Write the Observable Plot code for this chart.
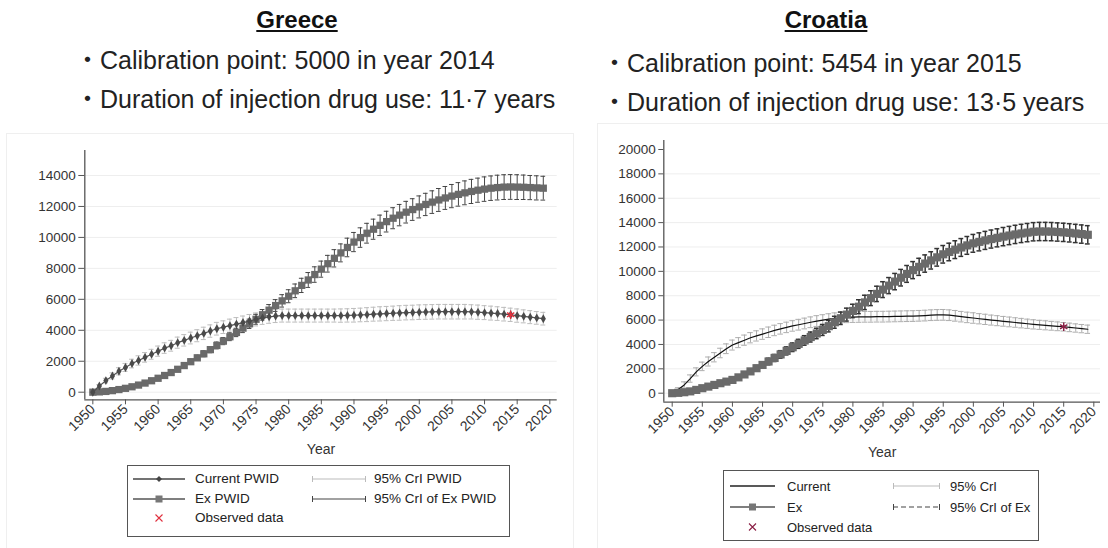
<!DOCTYPE html>
<html><head><meta charset="utf-8">
<script src="https://cdn.jsdelivr.net/npm/d3@7"></script>
<script src="https://cdn.jsdelivr.net/npm/@observablehq/plot@0.6"></script>
<style>
body{margin:0;background:#fff;font-family:Arial,"Liberation Sans","Noto Sans CJK JP",sans-serif;}
#root{position:relative;width:1108px;height:548px;overflow:hidden;background:#fff;}
.abs{position:absolute;}
.title{position:absolute;font-weight:bold;text-decoration:underline;font-size:24px;line-height:1;color:#111;transform:translateX(-50%);white-space:nowrap;}
.bullet{position:absolute;font-size:25px;line-height:1;color:#222;white-space:nowrap;}
.pframe{position:absolute;border:1px solid #efefef;}
.legend{position:absolute;border:1px solid #555;background:#fff;color:#222;}
.legend .it{position:absolute;white-space:nowrap;line-height:1;transform:translateY(-50%);}
.legend svg{position:absolute;transform:translateY(-50%);overflow:visible;}
</style>
</head><body>
<div id="root">
  <div class="pframe" style="left:6px;top:133px;width:566px;height:430px;"></div>
  <div class="pframe" style="left:597px;top:123px;width:530px;height:440px;"></div>
  <div class="title" style="left:297px;top:8px;">Greece</div>
  <div class="title" style="left:826px;top:8px;">Croatia</div>
  <div class="bullet" style="left:75px;top:48px;">・Calibration point: 5000 in year 2014</div>
  <div class="bullet" style="left:75px;top:87px;">・Duration of injection drug use: 11·7 years</div>
  <div class="bullet" style="left:602px;top:51px;">・Calibration point: 5454 in year 2015</div>
  <div class="bullet" style="left:602px;top:90px;">・Duration of injection drug use: 13·5 years</div>
  <div id="chartGR" class="abs" style="left:8px;top:134px;"></div>
  <div id="chartHR" class="abs" style="left:598px;top:124px;"></div>
  <div id="legGR" class="legend" style="left:127px;top:465px;width:381px;height:70px;font-size:13.5px;"></div>
  <div id="legHR" class="legend" style="left:723px;top:470px;width:314px;height:69px;font-size:13px;"></div>
</div>
<script>
// ---------- data ----------
const years = [1950,1951,1952,1953,1954,1955,1956,1957,1958,1959,
1960,1961,1962,1963,1964,1965,1966,1967,1968,1969,
1970,1971,1972,1973,1974,1975,1976,1977,1978,1979,
1980,1981,1982,1983,1984,1985,1986,1987,1988,1989,
1990,1991,1992,1993,1994,1995,1996,1997,1998,1999,
2000,2001,2002,2003,2004,2005,2006,2007,2008,2009,
2010,2011,2012,2013,2014,2015,2016,2017,2018,2019];

const xTicks = [1950,1955,1960,1965,1970,1975,1980,1985,1990,1995,2000,2005,2010,2015,2020];
const grYTicks = [0,2000,4000,6000,8000,10000,12000,14000];
const hrYTicks = [0,2000,4000,6000,8000,10000,12000,14000,16000,18000,20000];
const grXDomain = [1948.77, 2021.13];
const grYDomain = [-491, 15615];
const hrXDomain = [1948.605, 2021.11];
const hrYDomain = [-739, 20739];

// Greece
const grCurrent = [0,400,750,1050,1350,1600,1850,2050,2250,2450,
2650,2850,3000,3200,3350,3500,3650,3800,3950,4100,
4200,4300,4400,4500,4600,4700,4800,4870,4920,4950,
4950,4950,4950,4950,4950,4950,4950,4950,4950,4960,
4970,4990,5010,5040,5060,5080,5100,5120,5140,5150,
5170,5180,5190,5200,5200,5200,5200,5200,5190,5170,
5140,5110,5080,5040,5000,4950,4900,4850,4800,4750];
const grCurrentCrI = [0,100,150,200,230,260,280,300,310,320,
330,340,350,360,370,380,390,400,400,410,
410,420,420,420,420,420,420,420,420,420,
420,420,420,420,420,420,420,420,430,430,
440,440,450,450,460,460,460,470,470,470,
470,470,470,470,470,470,470,470,460,460,
450,450,440,440,430,430,420,420,410,410];
const grEx = [0,20,50,100,170,250,350,460,590,740,
900,1080,1270,1480,1720,1970,2220,2480,2750,3020,
3300,3580,3860,4140,4420,4710,5000,5300,5600,5900,
6200,6550,6900,7250,7600,7950,8300,8650,9000,9350,
9700,9990,10270,10530,10780,11020,11240,11440,11630,11800,
11970,12130,12280,12420,12550,12670,12780,12880,12970,13050,
13120,13180,13220,13250,13260,13250,13240,13220,13200,13180];
const grExCrI = [0,10,20,30,40,50,60,70,80,90,
100,110,120,130,140,160,170,190,200,220,
230,250,270,290,300,320,340,360,380,400,
420,440,460,480,500,520,540,560,580,600,
620,630,640,650,660,670,680,690,700,700,
710,720,730,740,740,750,760,770,780,780,
790,790,800,800,800,800,790,780,780,770];
const grObsYear = [2014];
const grObsValue = [5000];

// Croatia
const hrCurrent = [0,300,680,1200,1750,2200,2600,2950,3300,3650,
3950,4150,4350,4550,4700,4850,5000,5150,5280,5400,
5520,5620,5720,5820,5920,6000,6080,6150,6200,6230,
6250,6260,6270,6270,6280,6280,6290,6300,6310,6320,
6330,6350,6370,6400,6420,6430,6400,6350,6280,6220,
6170,6110,6060,6000,5950,5900,5850,5800,5750,5700,
5650,5610,5570,5530,5490,5454,5400,5350,5300,5250];
const hrCurrentCrI = [0,150,250,300,330,350,370,380,390,400,
410,410,420,420,420,430,430,430,430,430,
430,440,440,440,440,440,440,440,440,440,
440,440,440,440,440,440,440,440,440,440,
440,440,440,440,440,440,440,440,430,430,
430,420,420,410,410,400,400,390,390,380,
380,370,370,360,360,350,350,340,340,340];
const hrEx = [0,30,80,150,270,410,540,680,820,950,
1090,1300,1540,1790,2050,2320,2600,2890,3180,3470,
3770,4050,4330,4610,4900,5190,5500,5820,6150,6450,
6750,7100,7450,7800,8150,8500,8830,9160,9480,9790,
10100,10370,10640,10900,11150,11400,11590,11780,11960,12130,
12300,12420,12540,12650,12750,12850,12940,13030,13110,13180,
13250,13270,13270,13260,13230,13200,13160,13110,13060,13000];
const hrExCrI = [0,20,40,60,80,100,110,120,130,140,
150,170,190,210,230,250,270,290,310,330,
350,370,390,410,430,450,470,490,510,530,
550,570,590,610,630,650,660,670,680,690,
700,700,710,710,720,720,720,730,730,730,
730,740,740,740,740,750,750,750,750,750,
750,750,750,750,750,750,750,750,750,750];
const hrObsYear = [2015];
const hrObsValue = [5454];

// ---------- tables ----------
function table(cur, curCrI, ex, exCrI) {
  return years.map((year, i) => ({
    year,
    cur: cur[i], curLo: cur[i] - curCrI[i], curHi: cur[i] + curCrI[i],
    ex: ex[i], exLo: ex[i] - exCrI[i], exHi: ex[i] + exCrI[i]
  }));
}
const gr = table(grCurrent, grCurrentCrI, grEx, grExCrI);
const hr = table(hrCurrent, hrCurrentCrI, hrEx, hrExCrI);
const grObs = grObsYear.map((year, i) => ({year, value: grObsValue[i]}));
const hrObs = hrObsYear.map((year, i) => ({year, value: hrObsValue[i]}));

const FONT = 'Arial, "Liberation Sans", sans-serif';

function errorBars(data, lo, hi, stroke, strokeWidth, half) {
  const l = d => d.year - half, r = d => d.year + half;
  return [
    Plot.ruleX(data, {x: "year", y1: lo, y2: hi, stroke, strokeWidth}),
    Plot.ruleY(data, {y: lo, x1: l, x2: r, stroke, strokeWidth}),
    Plot.ruleY(data, {y: hi, x1: l, x2: r, stroke, strokeWidth})
  ];
}
function axes(yTicks, xDom, yDom, ySize, labelOffset) {
  return [
    Plot.axisY(yTicks, {tickSize: ySize, tickPadding: 3, tickFormat: "d", fontSize: 13.5, label: null, stroke: "#555", fill: "#333"}),
    Plot.axisX(xTicks, {tickSize: 5, tickPadding: 2, tickRotate: -45, tickFormat: "d", fontSize: 14, label: "Year", labelArrow: "none", labelAnchor: "center", labelOffset, stroke: "#555", fill: "#333"}),
    Plot.ruleX([xDom[0]], {stroke: "#555", strokeWidth: 1.3}),
    Plot.ruleY([yDom[0]], {stroke: "#555", strokeWidth: 1.3})
  ];
}

// ---------- Greece ----------
const plotGR = Plot.plot({
  width: 562, height: 330,
  marginLeft: 76.3, marginRight: 13.3, marginTop: 16, marginBottom: 64.7,
  x: {domain: grXDomain},
  y: {domain: grYDomain},
  style: {fontFamily: FONT, fontSize: "13.5px", background: "transparent", color: "#333", overflow: "visible"},
  marks: [
    Plot.gridY(grYTicks, {stroke: "#000", strokeOpacity: 0.07}),
    ...axes(grYTicks, grXDomain, grYDomain, 6, 54),
    ...errorBars(gr, "curLo", "curHi", "#bdbdbd", 1, 0.38),
    ...errorBars(gr, "exLo", "exHi", "#454545", 1, 0.36),
    Plot.line(gr, {x: "year", y: "ex", stroke: "#6a6a6a", strokeWidth: 1.8}),
    Plot.dot(gr, {x: "year", y: "ex", symbol: "square", r: 4.1, fill: "#6a6a6a"}),
    Plot.line(gr, {x: "year", y: "cur", stroke: "#505050", strokeWidth: 1.2}),
    Plot.dot(gr, {x: "year", y: "cur", symbol: "diamond", r: 2.7, fill: "#4a4a4a"}),
    Plot.dot(grObs, {x: "year", y: "value", symbol: "asterisk", r: 4, stroke: "#e0303e", strokeWidth: 1.4})
  ]
});
document.getElementById("chartGR").append(plotGR);

// ---------- Croatia ----------
const plotHR = Plot.plot({
  width: 508, height: 340,
  marginLeft: 65.3, marginRight: 6, marginTop: 16, marginBottom: 62.3,
  x: {domain: hrXDomain},
  y: {domain: hrYDomain},
  style: {fontFamily: FONT, fontSize: "13.5px", background: "transparent", color: "#333", overflow: "visible"},
  marks: [
    Plot.gridY(hrYTicks.filter(d => d < 20000), {stroke: "#000", strokeOpacity: 0.07}),
    ...axes(hrYTicks, hrXDomain, hrYDomain, 5, 55),
    ...errorBars(hr, "curLo", "curHi", "#adadad", 1, 0.46),
    Plot.line(hr, {x: "year", y: "cur", stroke: "#111", strokeWidth: 1.2}),
    ...errorBars(hr, "exLo", "exHi", "#333", 1.5, 0.4),
    Plot.line(hr, {x: "year", y: "ex", stroke: "#6a6a6a", strokeWidth: 2}),
    Plot.dot(hr, {x: "year", y: "ex", symbol: "square", r: 4.6, fill: "#6a6a6a"}),
    Plot.dot(hrObs, {x: "year", y: "value", symbol: "asterisk", r: 4, stroke: "#8a1f45", strokeWidth: 1.4})
  ]
});
document.getElementById("chartHR").append(plotHR);

// ---------- legends ----------
function swatch(kind, w) {
  const c = 7;
  let s = "";
  const ln = (col, sw, dash) => `<line x1="0" y1="${c}" x2="${w}" y2="${c}" stroke="${col}" stroke-width="${sw}"${dash ? ` stroke-dasharray="${dash}"` : ""}/>`;
  const caps = col => `<line x1="0.5" y1="${c-3}" x2="0.5" y2="${c+3}" stroke="${col}"/><line x1="${w-0.5}" y1="${c-3}" x2="${w-0.5}" y2="${c+3}" stroke="${col}"/>`;
  const m = w / 2;
  if (kind === "lineDiamond") s = ln("#444", 1.3) + `<path d="M${m},${c-3} L${m+3},${c} L${m},${c+3} L${m-3},${c} Z" fill="#444"/>`;
  if (kind === "lineSquare") s = ln("#555", 1.5) + `<rect x="${m-3.5}" y="${c-3.5}" width="7" height="7" fill="#777"/>`;
  if (kind === "line") s = ln("#222", 1.3);
  if (kind.startsWith("cross")) {
    const col = kind === "crossRed" ? "#e0303e" : "#8a1f45";
    s = `<path d="M${m-3.5},${c-3.5} L${m+3.5},${c+3.5} M${m-3.5},${c+3.5} L${m+3.5},${c-3.5}" stroke="${col}" stroke-width="1.1"/>`;
  }
  if (kind === "capLight") s = ln("#bbb", 1) + caps("#bbb");
  if (kind === "capDark") s = ln("#444", 1.2) + caps("#444");
  if (kind === "capDashed") s = ln("#444", 1.2, "5,3") + caps("#444");
  return `<svg width="${w}" height="14" style="left:0;top:0">${s}</svg>`;
}
function legend(id, items) {
  const el = document.getElementById(id);
  for (const it of items) {
    const sw = document.createElement("div");
    sw.style.cssText = `position:absolute;left:${it.sx}px;top:${it.y}px;`;
    sw.innerHTML = swatch(it.kind, it.sw);
    el.append(sw);
    const tx = document.createElement("div");
    tx.className = "it";
    tx.style.left = it.tx + "px";
    tx.style.top = it.y + "px";
    tx.textContent = it.label;
    el.append(tx);
  }
}
legend("legGR", [
  {kind: "lineDiamond", sx: 5, sw: 52, tx: 67, y: 13, label: "Current PWID"},
  {kind: "lineSquare", sx: 5, sw: 52, tx: 67, y: 33, label: "Ex PWID"},
  {kind: "crossRed", sx: 5, sw: 52, tx: 67, y: 52, label: "Observed data"},
  {kind: "capLight", sx: 184, sw: 54, tx: 246, y: 13, label: "95% CrI PWID"},
  {kind: "capDark", sx: 184, sw: 54, tx: 246, y: 33, label: "95% CrI of Ex PWID"}
]);
legend("legHR", [
  {kind: "line", sx: 6, sw: 45, tx: 63, y: 15, label: "Current"},
  {kind: "lineSquare", sx: 6, sw: 45, tx: 63, y: 36, label: "Ex"},
  {kind: "crossMaroon", sx: 6, sw: 45, tx: 63, y: 56, label: "Observed data"},
  {kind: "capLight", sx: 169, sw: 47, tx: 226, y: 15, label: "95% CrI"},
  {kind: "capDashed", sx: 169, sw: 47, tx: 226, y: 36, label: "95% CrI of Ex"}
]);
</script>
</body></html>
